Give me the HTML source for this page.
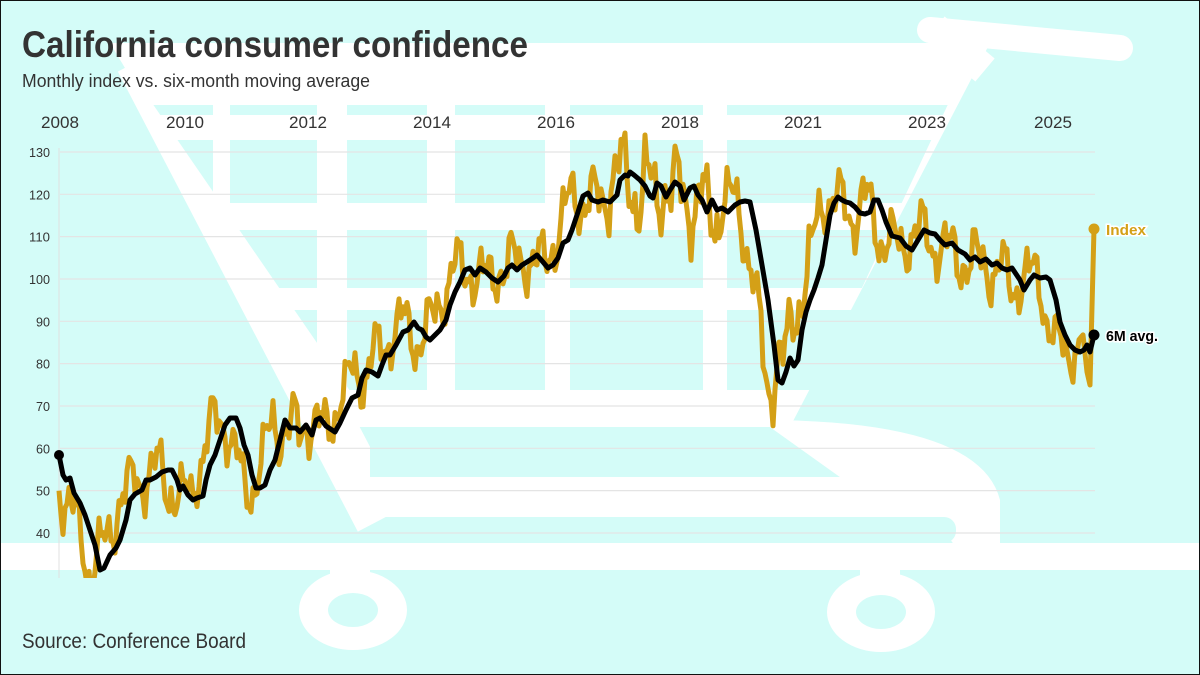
<!DOCTYPE html>
<html><head><meta charset="utf-8"><style>
html,body{margin:0;padding:0}
body{width:1200px;height:675px;overflow:hidden;background:#d4fcf8;font-family:"Liberation Sans Narrow","Liberation Sans",sans-serif}
svg{display:block}
</style></head><body>
<svg id="s" width="1200" height="675" viewBox="0 0 1200 675" xmlns="http://www.w3.org/2000/svg">
<defs>
<clipPath id="inner"><polygon points="150,100 950,100 800,420 370,420"/></clipPath>
<clipPath id="plot"><rect x="50" y="100" width="1060" height="478"/></clipPath>
</defs>
<rect x="0" y="0" width="1200" height="675" fill="#d4fcf8"/>
<g fill="#fff">
<polygon points="110,43 990,43 790,427 340,427"/>
<line x1="930" y1="30" x2="1120" y2="48" stroke="#fff" stroke-width="26" stroke-linecap="round"/>
<line x1="935" y1="28" x2="985" y2="70" stroke="#fff" stroke-width="30"/>
<line x1="140" y1="60" x2="380" y2="520" stroke="#fff" stroke-width="50"/>
<rect x="360" y="477" width="635" height="40" rx="20"/>
<path d="M760 420 Q980 420 1000 500 L1000 560 L960 560 Q950 520 900 520 Z"/>
<rect x="0" y="543" width="1200" height="27"/>
<rect x="330" y="560" width="40" height="20"/>
<rect x="860" y="560" width="40" height="20"/>
<ellipse cx="353" cy="610" rx="54" ry="40"/>
<ellipse cx="881" cy="612" rx="54" ry="40"/>
</g>
<g fill="#d4fcf8">
<rect x="390" y="517" width="566" height="26" rx="12"/>
<rect x="370" y="427" width="395" height="50"/>
<ellipse cx="353" cy="610" rx="25" ry="17"/>
<ellipse cx="881" cy="612" rx="25" ry="17"/>
<g clip-path="url(#inner)"><g id="holes"></g></g>
</g>
<g id="grid" stroke="#e4e4e4" stroke-width="1.2"></g>
<line x1="59" y1="148" x2="59" y2="578" stroke="#e0e0e0" stroke-width="1"/>
<g id="ylab" font-size="13" fill="#333" text-anchor="end"></g>
<g font-size="17" fill="#333" text-anchor="middle" id="years"></g>
<g clip-path="url(#plot)">
<polyline id="gold" fill="none" stroke="#d4a017" stroke-width="5" stroke-linejoin="round"/>
<polyline id="blk" fill="none" stroke="#000" stroke-width="5" stroke-linejoin="round"/>
</g>
<circle cx="59" cy="455" r="5" fill="#000"/>
<circle cx="1094" cy="229" r="5.5" fill="#d4a017"/>
<circle cx="1094" cy="335" r="5.5" fill="#000"/>
<text x="1106" y="235" font-size="15" font-weight="bold" fill="#d4a017" stroke="#fff" stroke-width="3" paint-order="stroke" textLength="40" lengthAdjust="spacingAndGlyphs">Index</text>
<text x="1106" y="341" font-size="15" font-weight="bold" fill="#000" stroke="#fff" stroke-width="3" paint-order="stroke" textLength="52" lengthAdjust="spacingAndGlyphs">6M avg.</text>
<text x="22" y="57" font-size="37" font-weight="bold" fill="#333" textLength="506" lengthAdjust="spacingAndGlyphs">California consumer confidence</text>
<text x="22" y="87" font-size="18" fill="#333" textLength="348" lengthAdjust="spacingAndGlyphs">Monthly index vs. six-month moving average</text>
<text x="22" y="648" font-size="21" fill="#333" textLength="224" lengthAdjust="spacingAndGlyphs">Source: Conference Board</text>
<rect x="0.5" y="0.5" width="1199" height="674" fill="none" stroke="#111" stroke-width="1"/>
</svg>
<script>
var NS="http://www.w3.org/2000/svg";
function el(t,a,p){var e=document.createElementNS(NS,t);for(var k in a)e.setAttribute(k,a[k]);p.appendChild(e);return e;}
var grid=document.getElementById('grid'),yl=document.getElementById('ylab');
for(var v=40;v<=130;v+=10){var y=152+(130-v)*4.233;el('line',{x1:60,y1:y,x2:1095,y2:y},grid);var t=el('text',{x:50,y:y+5,textLength:(v>=100?21:14),lengthAdjust:'spacingAndGlyphs'},yl);t.textContent=v;}
var yrs=[[60,2008],[185,2010],[308,2012],[432,2014],[556,2016],[680,2018],[803,2021],[927,2023],[1053,2025]];
var yg=document.getElementById('years');
yrs.forEach(function(p){var t=el('text',{x:p[0]-19,y:128,'text-anchor':'start',textLength:38,lengthAdjust:'spacingAndGlyphs'},yg);t.textContent=p[1];});
var holes=document.getElementById('holes');
var rows=[[105,115],[140,203],[230,288],[310,390]];
var cols=[[100,213],[230,317],[347,427],[455,545],[570,703],[727,1000]];
rows.forEach(function(r){cols.forEach(function(c){el('rect',{x:c[0],y:r[0],width:c[1]-c[0],height:r[1]-r[0]},holes);});});
var B=[[59,455],[63,475],[66,480],[70,478],[74,493],[80,503],[85,515],[90,530],[95,545],[100,570],[104,568],[110,555],[116,548],[120,540],[126,520],[130,500],[135,494],[142,490],[146,480],[150,480],[156,477],[162,472],[168,470],[172,470],[177,480],[180,490],[183,486],[188,495],[193,500],[197,498],[203,496],[206,480],[210,465],[215,455],[220,440],[225,425],[230,418],[236,418],[240,428],[244,445],[248,455],[252,475],[256,488],[260,488],[265,485],[270,470],[275,460],[280,440],[285,420],[290,428],[296,428],[300,432],[306,425],[312,435],[316,420],[320,418],[326,426],[335,432],[340,423],[346,410],[352,398],[358,395],[362,378],[366,370],[372,372],[378,376],[382,365],[386,355],[390,355],[396,345],[403,332],[408,330],[414,322],[418,328],[422,330],[426,337],[430,340],[434,336],[440,330],[446,320],[450,305],[455,292],[460,282],[465,270],[470,268],[475,275],[480,268],[486,272],[492,278],[498,282],[504,276],[508,268],[512,265],[517,270],[522,265],[527,262],[533,258],[537,255],[543,262],[548,268],[553,265],[558,258],[563,243],[568,240],[572,230],[578,212],[583,196],[588,193],[592,200],[598,202],[603,200],[610,202],[617,195],[620,180],[625,175],[628,176],[630,172],[634,175],[640,180],[645,186],[650,196],[653,198],[657,183],[661,186],[666,197],[670,190],[675,182],[680,186],[684,200],[690,188],[694,186],[698,195],[702,200],[707,212],[712,200],[717,210],[722,208],[728,212],[735,205],[740,202],[745,201],[750,202],[756,230],[762,265],[768,300],[774,345],[778,380],[782,383],[786,372],[790,358],[794,366],[798,360],[802,330],[806,312],[810,300],[814,290],[818,278],[822,265],[826,240],[830,215],[834,203],[838,197],[842,200],[846,202],[850,203],[855,207],[860,213],[865,214],[870,212],[874,200],[878,200],[882,210],[886,222],[892,236],[900,238],[906,246],[912,250],[918,240],[924,230],[930,233],[935,234],[940,240],[945,245],[952,243],[958,250],[965,254],[970,260],[975,257],[980,262],[986,259],[992,265],[997,263],[1002,268],[1007,270],[1012,268],[1020,280],[1024,290],[1030,280],[1034,275],[1040,278],[1046,277],[1050,280],[1056,300],[1060,322],[1065,335],[1070,345],[1075,350],[1080,352],[1084,350],[1087,345],[1090,352],[1094,335]];
document.getElementById('blk').setAttribute('points',B.map(function(p){return p.join(',')}).join(' '));
function bAt(x){if(x<=B[0][0])return B[0][1];for(var i=1;i<B.length;i++){if(B[i][0]>=x){var a=B[i-1],b=B[i];return a[1]+(b[1]-a[1])*(x-a[0])/(b[0]-a[0]);}}return B[B.length-1][1];}
var g=[];
for(var x=59;x<=1084;x+=2){var amp=1.3;if(x>600&&x<720)amp=1.8;if(x>760&&x<810)amp=1.6;if(x>1040)amp=1.1;
var n=amp*(17*Math.sin(x*0.23)+10*Math.sin(x*0.61+1)+6*Math.sin(x*1.3+2));var y=bAt(x+12)+n;g.push(x.toFixed(1)+','+y.toFixed(1));}
g.push('1087,372','1090,385','1094,229');
document.getElementById('gold').setAttribute('points',g.join(' '));
</script>
</body></html>
